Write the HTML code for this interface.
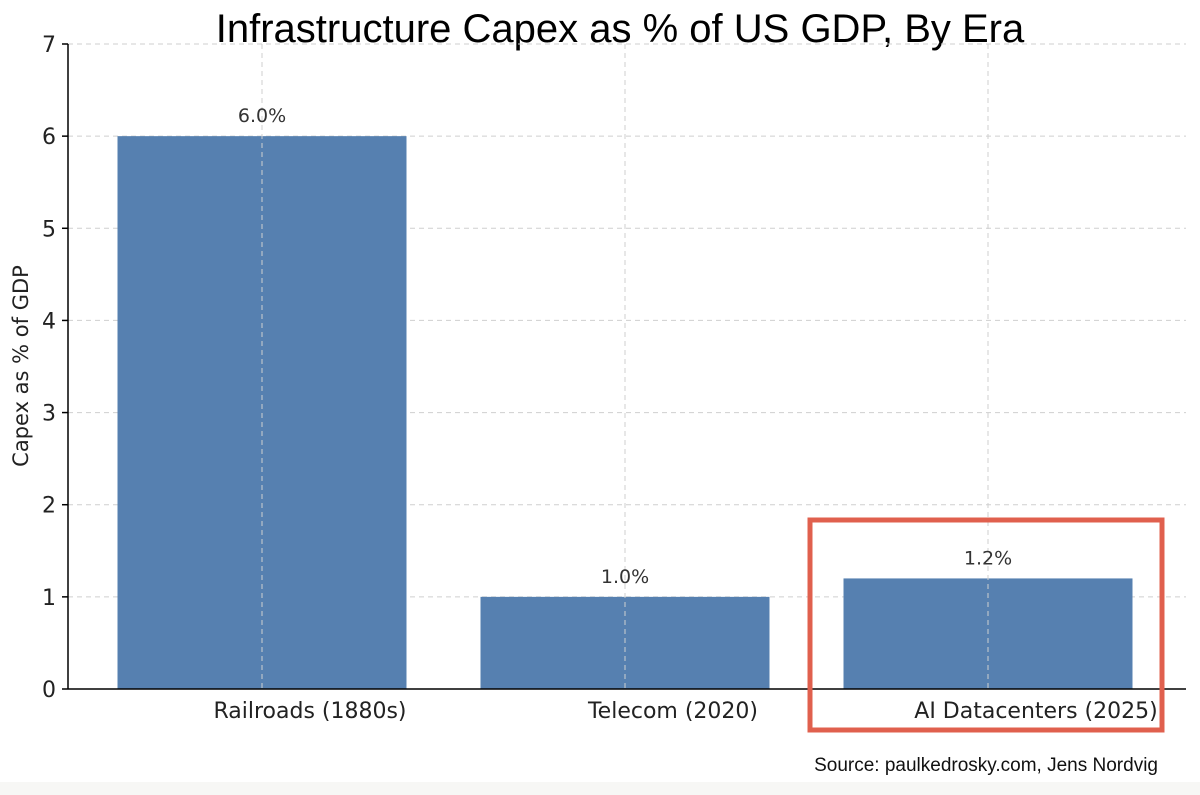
<!DOCTYPE html>
<html><head><meta charset="utf-8"><style>
html,body{margin:0;padding:0;background:#fff;}
svg{display:block;}
</style></head><body>
<svg id="chart" width="1200" height="795" xmlns="http://www.w3.org/2000/svg">
<rect x="0" y="0" width="1200" height="795" fill="#fff"/>
<rect x="0" y="782" width="1200" height="13" fill="#f7f7f5"/>
<text x="620" y="42" text-anchor="middle" font-family="Liberation Sans, sans-serif" font-size="40" fill="#000">Infrastructure Capex as % of US GDP, By Era</text>
<g id="grid"></g>
<g id="bars"></g>
<g id="axes"></g>
<text transform="translate(28,366) rotate(-90)" text-anchor="middle" font-family="DejaVu Sans, sans-serif" font-size="21" fill="#222">Capex as % of GDP</text>
<rect x="810" y="520" width="352" height="210" fill="none" stroke="#e0604e" stroke-width="5"/>
<text x="1158" y="771" text-anchor="end" font-family="Liberation Sans, sans-serif" font-size="19" fill="#111">Source: paulkedrosky.com, Jens Nordvig</text>
</svg>
<script>
const categories = ["Railroads (1880s)", "Telecom (2020)", "AI Datacenters (2025)"];
const values = [6.0, 1.0, 1.2];
const valueLabels = ["6.0%", "1.0%", "1.2%"];
const yTicks = [0, 1, 2, 3, 4, 5, 6, 7];

const NS = "http://www.w3.org/2000/svg";
const x0 = 68, xEnd = 1186, yBase = 689, yTop = 44, yMax = 7;
const y = v => yBase - (v / yMax) * (yBase - yTop);
const firstCenter = 262, step = 363, barW = 289;
const xc = i => firstCenter + i * step;

function mk(tag, attrs, parent, text) {
  const e = document.createElementNS(NS, tag);
  for (const k in attrs) e.setAttribute(k, attrs[k]);
  if (text !== undefined) e.textContent = text;
  parent.appendChild(e);
  return e;
}
const grid = document.getElementById('grid');
const bars = document.getElementById('bars');
const axes = document.getElementById('axes');

yTicks.forEach(t => {
  if (t > 0) {
    const l = mk('line', {x1: x0, x2: xEnd, y1: y(t), y2: y(t), stroke: '#cfcfcf', 'stroke-width': 1, 'stroke-dasharray': '5,4'}, grid);
    
    
  }
  const tk = mk('line', {x1: x0 - 6, x2: x0, y1: y(t), y2: y(t), stroke: '#000', 'stroke-width': 1.5}, axes);
  
  
  const tl = mk('text', {x: x0 - 12, y: y(t) + 8, 'text-anchor': 'end', 'font-family': 'DejaVu Sans, sans-serif', 'font-size': 22, fill: '#222'}, axes, String(t));
  
  
});

categories.forEach((c, i) => {
  const b = mk('rect', {x: xc(i) - barW / 2, y: y(values[i]), width: barW, height: yBase - y(values[i]), fill: '#5680b0'}, bars);
  
  
  const g = mk('line', {x1: xc(i), x2: xc(i), y1: yTop, y2: yBase, stroke: '#cfcfcf', 'stroke-width': 1, 'stroke-dasharray': '5,4'}, bars);
  
  
  const v = mk('text', {x: xc(i), y: y(values[i]) - 14, 'text-anchor': 'middle', 'font-family': 'DejaVu Sans, sans-serif', 'font-size': 19, fill: '#333'}, bars, valueLabels[i]);
  
  
  const xl = mk('text', {x: xc(i) + 48, y: 718, 'text-anchor': 'middle', 'font-family': 'DejaVu Sans, sans-serif', 'font-size': 22, fill: '#222'}, axes, c);
  
  
});

const ya = mk('line', {x1: x0, x2: x0, y1: yTop, y2: yBase, stroke: '#000', 'stroke-width': 1.5}, axes);


const xa = mk('line', {x1: x0, x2: xEnd, y1: yBase, y2: yBase, stroke: '#000', 'stroke-width': 1.5}, axes);


</script>
</body></html>
